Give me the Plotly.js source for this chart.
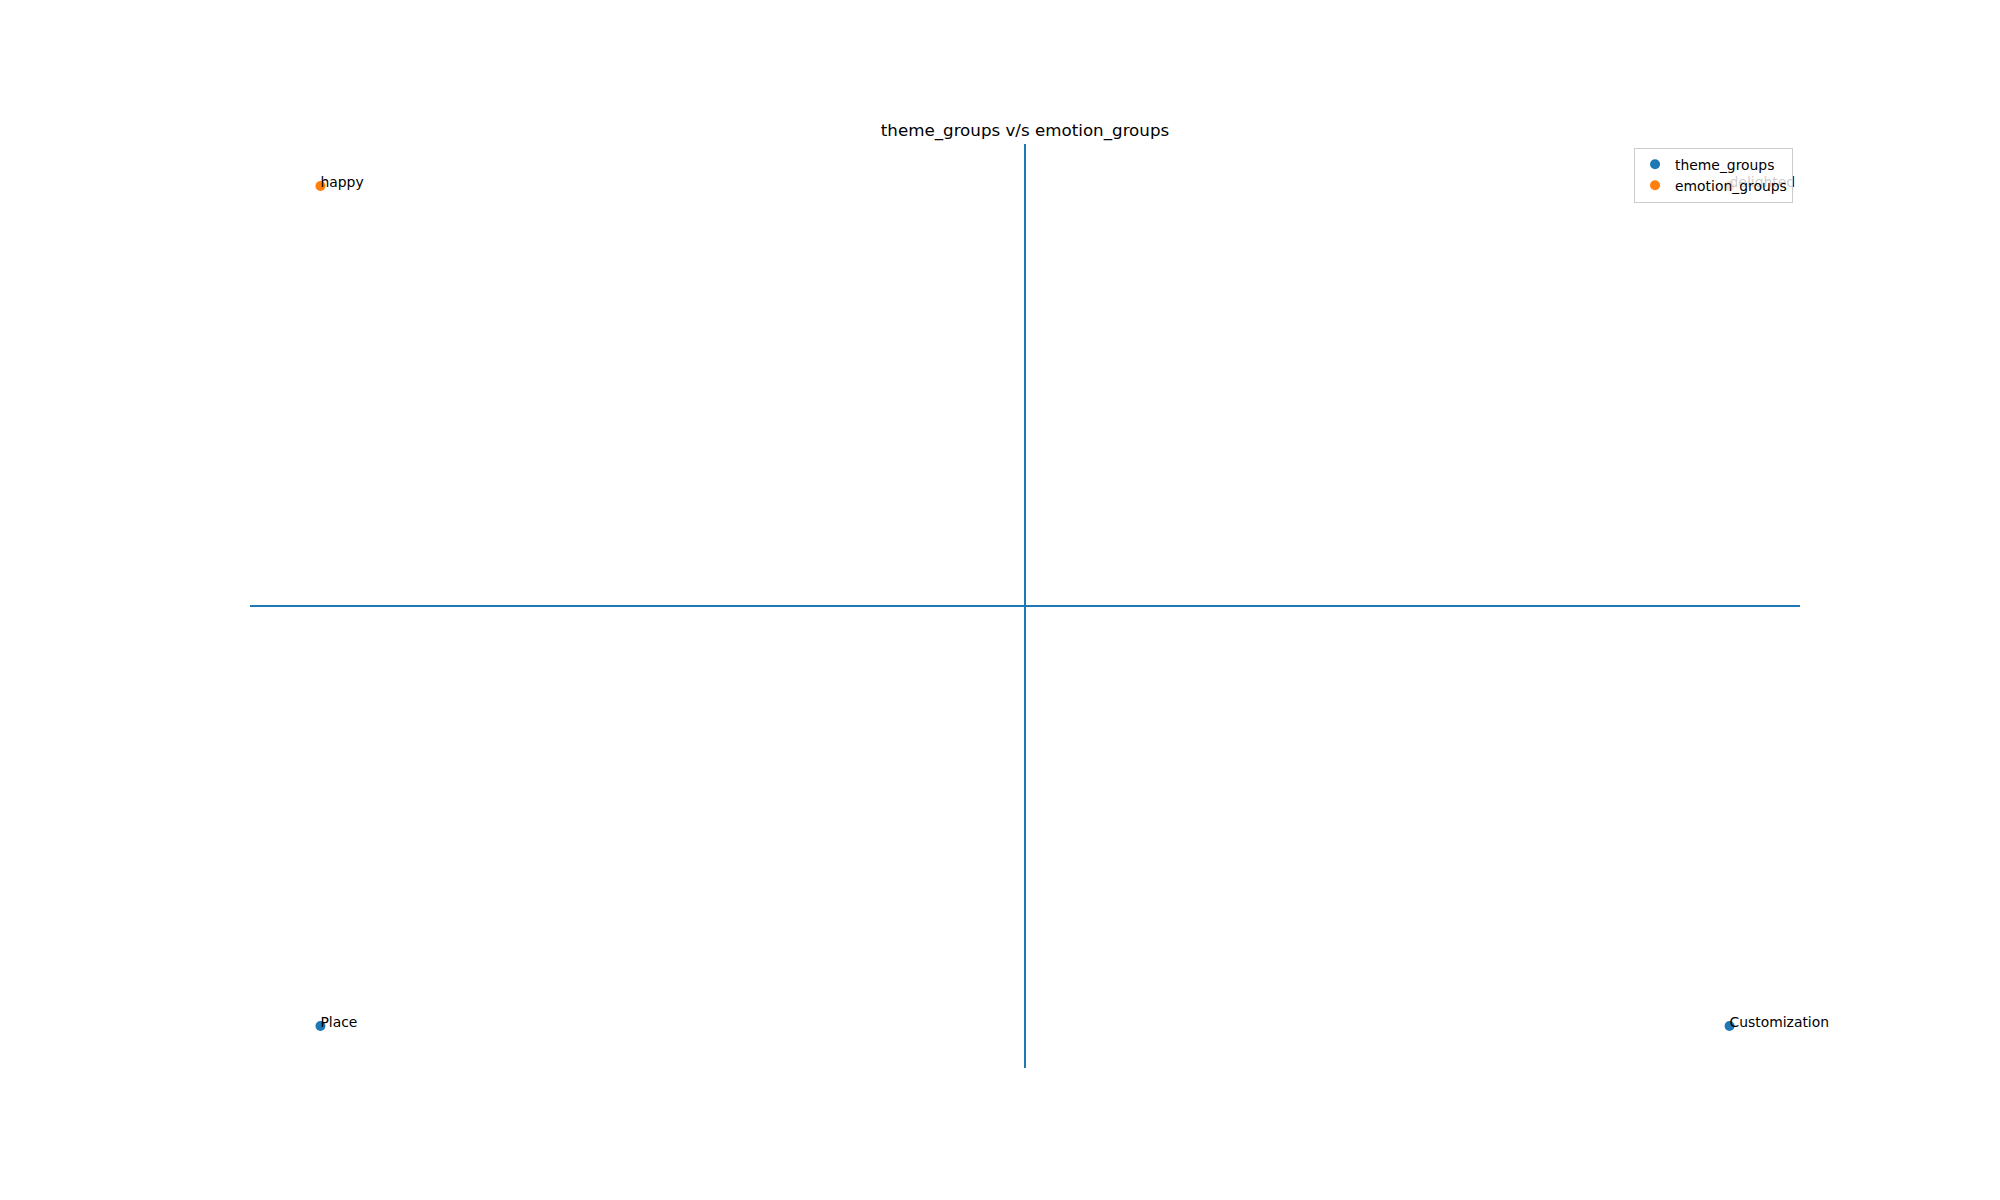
<!DOCTYPE html>
<html>
<head>
<meta charset="utf-8">
<script src="https://cdn.plot.ly/plotly-3.0.1.min.js"></script>
<style>html,body{margin:0;padding:0;background:#fff;}</style>
</head>
<body>
<div id="chart" style="width:2000px;height:1200px;"></div>
<script>
const themeLabels = ['Place', 'Customization'];
const themeX = [-1, 1];
const themeY = [-1, -1];
const emotionLabels = ['happy', 'delighted'];
const emotionX = [-1, 1];
const emotionY = [1, 1];

const font = 'DejaVu Sans, sans-serif';
const blue = '#1f77b4';
const orange = '#ff7f0e';

// small pixel nudge so label baselines sit at the point (as matplotlib annotate does)
const textShiftPx = 4;
const plotH = 1200 - 144 - 132;
const dShift = textShiftPx * 2.2 / plotH;

const traces = [
  {x: themeX, y: themeY, mode: 'markers', type: 'scatter', name: 'theme_groups',
   marker: {color: blue, size: 10}, cliponaxis: false},
  {x: emotionX, y: emotionY, mode: 'markers', type: 'scatter', name: 'emotion_groups',
   marker: {color: orange, size: 10}, cliponaxis: false},
  {x: themeX, y: themeY, yaxis: 'y2', mode: 'text', type: 'scatter', text: themeLabels,
   textposition: 'top right', showlegend: false, cliponaxis: false,
   textfont: {family: font, size: 13.9, color: '#000'}},
  {x: emotionX, y: emotionY, yaxis: 'y2', mode: 'text', type: 'scatter', text: emotionLabels,
   textposition: 'top right', showlegend: false, cliponaxis: false,
   textfont: {family: font, size: 13.9, color: '#000'}}
];

const axisCommon = {
  range: [-1.1, 1.1], showgrid: false, showticklabels: false, ticks: '',
  showline: false, zeroline: true, zerolinecolor: blue, zerolinewidth: 2,
  fixedrange: true
};

const layout = {
  width: 2000, height: 1200,
  margin: {l: 250, r: 200, t: 144, b: 132, pad: 0},
  paper_bgcolor: '#fff', plot_bgcolor: '#fff',
  font: {family: font, color: '#000'},
  title: {text: 'theme_groups v/s emotion_groups', x: 0.5, xref: 'paper',
          y: 1, yref: 'paper', xanchor: 'center', yanchor: 'bottom',
          pad: {b: 8}, font: {family: font, size: 16.7, color: '#000'}},
  xaxis: Object.assign({}, axisCommon),
  yaxis: Object.assign({}, axisCommon),
  yaxis2: {overlaying: 'y', range: [-1.1 + dShift, 1.1 + dShift], showgrid: false,
           showticklabels: false, ticks: '', showline: false, zeroline: false, fixedrange: true},
  showlegend: true,
  legend: {x: 0.9955, y: 0.996, xanchor: 'right', yanchor: 'top',
           bgcolor: 'rgba(255,255,255,0.8)', bordercolor: '#cccccc', borderwidth: 1,
           font: {family: font, size: 13.9, color: '#000'}, tracegroupgap: 0}
};

Plotly.newPlot('chart', traces, layout, {displayModeBar: false, staticPlot: true});
</script>
</body>
</html>
